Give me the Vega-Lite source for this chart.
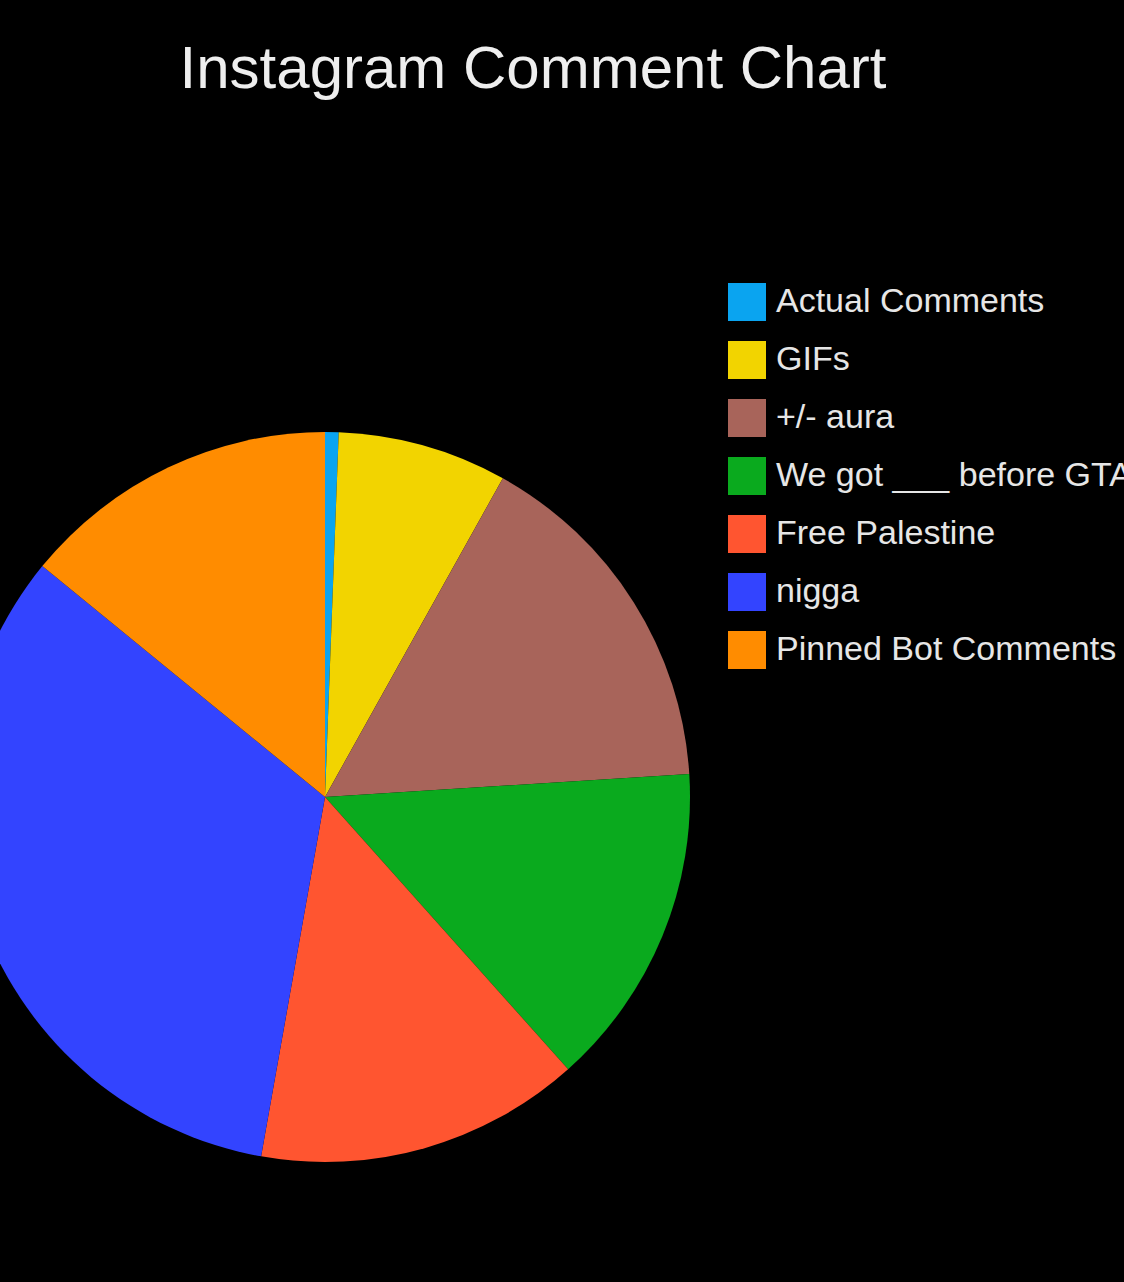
{
  "$schema": "https://vega.github.io/schema/vega-lite/v6.json",
  "width": 730,
  "height": 730,
  "autosize": {"type": "none"},
  "padding": {"left": -40, "top": 432, "right": 434, "bottom": 120},
  "background": "#000000",
  "config": {"view": {"stroke": null}},
  "title": {
    "text": "Instagram Comment Chart",
    "font": "Liberation Sans",
    "fontSize": 60,
    "fontWeight": "normal",
    "color": "#eeeeee",
    "anchor": "middle",
    "frame": "group",
    "baseline": "alphabetic",
    "offset": 135,
    "dx": 208
  },
  "data": {
    "values": [
      {"rank": 1, "category": "Actual Comments", "value": 0.6},
      {"rank": 2, "category": "GIFs", "value": 7.5},
      {"rank": 3, "category": "+/- aura", "value": 15.9},
      {"rank": 4, "category": "We got ___ before GTA 6", "value": 14.4},
      {"rank": 5, "category": "Free Palestine", "value": 14.4},
      {"rank": 6, "category": "nigga", "value": 33.1},
      {"rank": 7, "category": "Pinned Bot Comments", "value": 14.1}
    ]
  },
  "mark": {"type": "arc", "radius": 365, "strokeWidth": 0},
  "encoding": {
    "theta": {"field": "value", "type": "quantitative", "stack": true},
    "order": {"field": "rank", "type": "quantitative", "sort": "ascending"},
    "color": {
      "field": "category",
      "type": "nominal",
      "sort": ["Actual Comments", "GIFs", "+/- aura", "We got ___ before GTA 6", "Free Palestine", "nigga", "Pinned Bot Comments"],
      "scale": {
        "domain": ["Actual Comments", "GIFs", "+/- aura", "We got ___ before GTA 6", "Free Palestine", "nigga", "Pinned Bot Comments"],
        "range": ["#0aa4f0", "#f2d400", "#a8645a", "#0aaa1e", "#ff5530", "#3344ff", "#ff8c00"]
      },
      "legend": {
        "title": null,
        "orient": "none",
        "legendX": 768,
        "legendY": -149,
        "padding": 0,
        "symbolType": "square",
        "symbolSize": 1444,
        "symbolStrokeWidth": 0,
        "symbolOpacity": 1,
        "labelFont": "Liberation Sans",
        "labelFontSize": 34,
        "labelColor": "#e6e6e6",
        "labelOffset": 10,
        "labelLimit": 0,
        "rowPadding": 20
      }
    }
  }
}
